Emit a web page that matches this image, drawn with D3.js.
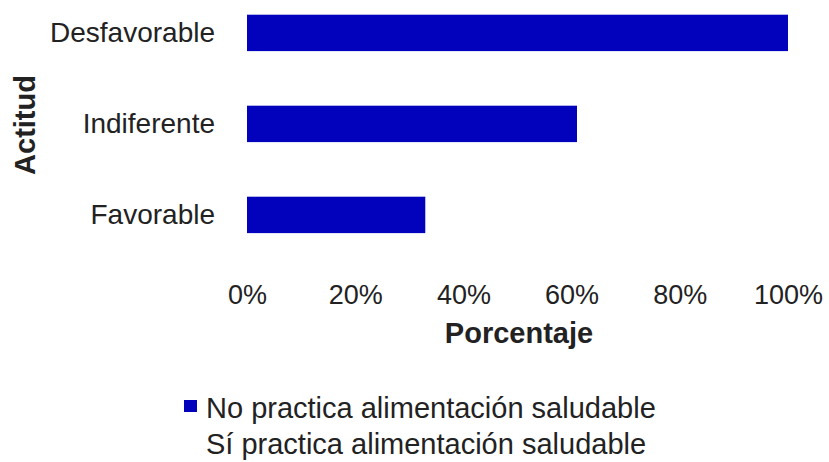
<!DOCTYPE html>
<html>
<head>
<meta charset="utf-8">
<script src="https://cdn.jsdelivr.net/npm/d3@7"></script>
<style>
  html, body { margin: 0; padding: 0; background: #fff; }
  svg { display: block; font-family: "Liberation Sans", Arial, sans-serif; }
</style>
</head>
<body>
<svg id="chart" width="829" height="462"></svg>
<script>
// Attitude categories (top to bottom) and the share of each group, in percent
const categories = ["Desfavorable", "Indiferente", "Favorable"];
const noPractica = [100, 61, 33];
const siPractica = [0, 39, 67];
const seriesNames = ["No practica alimentación saludable", "Sí practica alimentación saludable"];
const seriesColors = ["#0202bc", "#ffffff"];
const tickValues = [0, 20, 40, 60, 80, 100];

(function () {
  const svg = d3.select("#chart");
  const plotLeft = 247, plotRight = 788, plotTop = -12.6, plotBottom = 260.4;
  const font = "Liberation Sans, Arial, sans-serif";
  const ink = "#222";

  const x = d3.scaleLinear().domain([0, 100]).range([plotLeft, plotRight]);
  const y = d3.scaleBand().domain(categories).range([plotTop, plotBottom]).paddingInner(0.6).paddingOuter(0.3);

  const rows = categories.map((c, i) => ({ cat: c, no: noPractica[i], si: siPractica[i] }));
  const stacked = d3.stack().keys(["no", "si"])(rows);

  svg.append("g").selectAll("g")
    .data(stacked)
    .join("g")
    .attr("fill", (d, i) => seriesColors[i])
    .selectAll("rect")
    .data(d => d)
    .join("rect")
    .attr("x", d => x(d[0]))
    .attr("width", d => x(d[1]) - x(d[0]))
    .attr("y", d => y(d.data.cat))
    .attr("height", y.bandwidth());

  // Category axis
  const yAxis = svg.append("g")
    .attr("transform", `translate(${plotLeft},0)`)
    .call(d3.axisLeft(y).tickSize(0).tickPadding(32));
  yAxis.select(".domain").remove();
  yAxis.selectAll("text").attr("font-size", 28).attr("fill", ink).attr("font-family", font);

  // Percentage axis
  const xAxis = svg.append("g")
    .attr("transform", "translate(0,285)")
    .call(d3.axisBottom(x).tickValues(tickValues).tickFormat(d => d + "%").tickSize(0).tickPadding(0));
  xAxis.select(".domain").remove();
  xAxis.selectAll("text").attr("font-size", 27).attr("fill", ink).attr("font-family", font);

  // Axis titles
  svg.append("text")
    .attr("x", 519).attr("y", 343)
    .attr("text-anchor", "middle")
    .attr("font-size", 29).attr("font-weight", "bold").attr("fill", ink)
    .text("Porcentaje");

  svg.append("text")
    .attr("transform", "translate(35,125) rotate(-90)")
    .attr("text-anchor", "middle")
    .attr("font-size", 29).attr("font-weight", "bold").attr("fill", ink)
    .text("Actitud");

  // Legend
  const legend = svg.append("g").selectAll("g")
    .data(seriesNames)
    .join("g")
    .attr("transform", (d, i) => `translate(184,${406 + i * 36})`);
  legend.append("rect")
    .attr("x", 0).attr("y", -6).attr("width", 13).attr("height", 12)
    .attr("fill", (d, i) => seriesColors[i]);
  legend.append("text")
    .attr("x", 22).attr("y", 12)
    .attr("font-size", 29).attr("fill", ink)
    .text(d => d);
})();
</script>
</body>
</html>
